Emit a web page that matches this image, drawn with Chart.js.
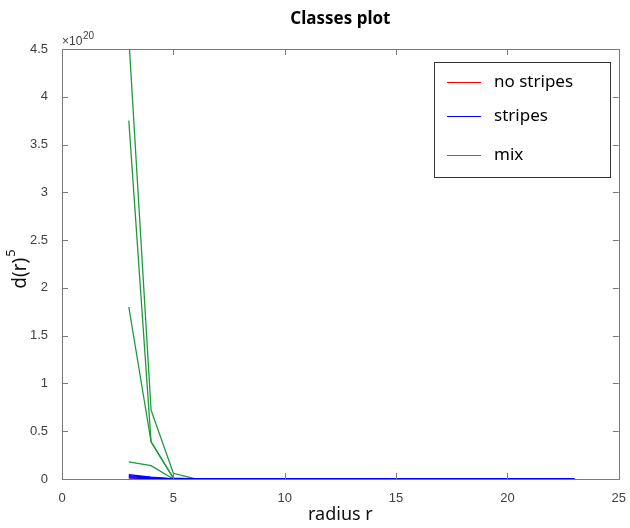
<!DOCTYPE html>
<html>
<head>
<meta charset="utf-8">
<script src="https://cdn.jsdelivr.net/npm/chart.js@4/dist/chart.umd.min.js"></script>
<style>
  html, body { margin: 0; padding: 0; background: #fff; }
  #wrap { width: 630px; height: 528px; }
</style>
</head>
<body>
<div id="wrap"><canvas id="myChart" width="630" height="528"></canvas></div>
<script>
// radius r
const radius = [3, 4, 5, 6, 7, 8, 9, 10, 11, 12, 13, 14, 15, 16, 17, 18, 19, 20, 21, 22, 23]

// d(r)^5 in units of 1e20
const noStripes1 = [0.012, 0.004, 0, 0, 0, 0, 0, 0, 0, 0, 0, 0, 0, 0, 0, 0, 0, 0, 0, 0, 0]
const stripes1 = [0.045, 0.020, 0.002, 0, 0, 0, 0, 0, 0, 0, 0, 0, 0, 0, 0, 0, 0, 0, 0, 0, 0]
const stripes2 = [0.035, 0.014, 0.001, 0, 0, 0, 0, 0, 0, 0, 0, 0, 0, 0, 0, 0, 0, 0, 0, 0, 0]
const stripes3 = [0.025, 0.009, 0, 0, 0, 0, 0, 0, 0, 0, 0, 0, 0, 0, 0, 0, 0, 0, 0, 0, 0]
const stripes4 = [0.012, 0.004, 0, 0, 0, 0, 0, 0, 0, 0, 0, 0, 0, 0, 0, 0, 0, 0, 0, 0, 0]
const mix1 = [4.62, 0.72, 0.06, 0, 0, 0, 0, 0, 0, 0, 0, 0, 0, 0, 0, 0, 0, 0, 0, 0, 0]
const mix2 = [3.75, 0.39, 0.01, 0, 0, 0, 0, 0, 0, 0, 0, 0, 0, 0, 0, 0, 0, 0, 0, 0, 0]
const mix3 = [1.80, 0.39, 0.01, 0, 0, 0, 0, 0, 0, 0, 0, 0, 0, 0, 0, 0, 0, 0, 0, 0, 0]
const mix4 = [0.18, 0.14, 0, 0, 0, 0, 0, 0, 0, 0, 0, 0, 0, 0, 0, 0, 0, 0, 0, 0, 0]

const xTicks = [0, 5, 10, 15, 20, 25]
const yTicks = [0, 0.5, 1, 1.5, 2, 2.5, 3, 3.5, 4, 4.5]

const classes = [
  { label: 'no stripes', color: '#ff0000', series: [noStripes1], order: 3 },
  { label: 'stripes', color: '#0000ff', series: [stripes1, stripes2, stripes3, stripes4], order: 1 },
  { label: 'mix', color: '#1e9a3c', series: [mix1, mix2, mix3, mix4], order: 2 }
]

const datasets = []
classes.forEach(c => {
  c.series.forEach((s, i) => {
    datasets.push({
      label: c.label,
      data: s.map((v, k) => ({ x: radius[k], y: v })),
      borderColor: c.color,
      backgroundColor: c.color,
      borderWidth: 1.3,
      pointRadius: 0,
      tension: 0,
      order: c.order,
      inLegend: i === 0
    })
  })
})

const textFont = '"Noto Sans", "Open Sans", sans-serif'
const tickFont = '"Liberation Sans", Arial, sans-serif'

const matlabAxes = {
  id: 'matlabAxes',
  afterDraw(chart) {
    const ctx = chart.ctx
    const a = chart.chartArea
    const xs = chart.scales.x
    const ys = chart.scales.y
    ctx.save()
    // box
    ctx.strokeStyle = '#7a7a7a'
    ctx.lineWidth = 1
    ctx.strokeRect(Math.round(a.left) + 0.5, Math.round(a.top) + 0.5,
      Math.round(a.right - a.left), Math.round(a.bottom - a.top))
    // inner ticks
    ctx.beginPath()
    xTicks.forEach(t => {
      const px = Math.round(xs.getPixelForValue(t)) + 0.5
      ctx.moveTo(px, a.bottom); ctx.lineTo(px, a.bottom - 6)
      ctx.moveTo(px, a.top); ctx.lineTo(px, a.top + 6)
    })
    yTicks.forEach(t => {
      const py = Math.round(ys.getPixelForValue(t)) + 0.5
      ctx.moveTo(a.left, py); ctx.lineTo(a.left + 6, py)
      ctx.moveTo(a.right, py); ctx.lineTo(a.right - 6, py)
    })
    ctx.stroke()

    // exponent label
    ctx.fillStyle = '#404040'
    ctx.textBaseline = 'alphabetic'
    ctx.textAlign = 'left'
    ctx.font = '12px ' + tickFont
    ctx.fillText('\u00d710', a.left, a.top - 4)
    ctx.font = '10px ' + tickFont
    ctx.fillText('20', a.left + ctx.measureText('\u00d710').width + 4, a.top - 10)

    // title
    ctx.fillStyle = '#000'
    ctx.textAlign = 'center'
    ctx.textBaseline = 'middle'
    ctx.font = 'bold 17px ' + textFont
    ctx.fillText('Classes plot', (a.left + a.right) / 2, 19)

    // x label
    ctx.font = '18px ' + textFont
    ctx.fillStyle = '#111'
    ctx.fillText('radius r', (a.left + a.right) / 2, 515)

    // y label with superscript
    ctx.translate(21, (a.top + a.bottom) / 2 + 5)
    ctx.rotate(-Math.PI / 2)
    ctx.textAlign = 'left'
    ctx.font = '19px ' + textFont
    const w1 = ctx.measureText('d(r)').width
    ctx.font = '13px ' + textFont
    const w2 = ctx.measureText('5').width
    const start = -(w1 + w2 + 1) / 2
    ctx.font = '19px ' + textFont
    ctx.fillText('d(r)', start, 0)
    ctx.font = '13px ' + textFont
    ctx.fillText('5', start + w1 + 1, -10)
    ctx.restore()

    // legend
    const lx = 434, ly = 62, lw = 176, lh = 115
    ctx.save()
    ctx.fillStyle = '#fff'
    ctx.fillRect(lx, ly, lw, lh)
    ctx.strokeStyle = '#333'
    ctx.lineWidth = 1
    ctx.strokeRect(lx + 0.5, ly + 0.5, lw, lh)
    const rows = [82, 116, 155]
    const entries = chart.data.datasets.filter(d => d.inLegend)
    entries.forEach((d, i) => {
      const y = rows[i]
      ctx.strokeStyle = d.borderColor
      ctx.lineWidth = 1
      ctx.beginPath()
      ctx.moveTo(447, y + 0.5); ctx.lineTo(481, y + 0.5)
      ctx.stroke()
      ctx.fillStyle = '#000'
      ctx.font = '17px ' + textFont
      ctx.textAlign = 'left'
      ctx.textBaseline = 'middle'
      ctx.fillText(d.label, 494, y)
    })
    ctx.restore()
  }
}

const ctx = document.getElementById('myChart')
const myChart = new Chart(ctx, {
  type: 'line',
  data: { datasets },
  options: {
    responsive: false,
    animation: false,
    layout: { padding: { left: 0, right: 8, top: 49, bottom: 0 } },
    plugins: {
      legend: { display: false },
      title: { display: false },
      tooltip: { enabled: false }
    },
    scales: {
      x: {
        type: 'linear',
        min: 0,
        max: 25,
        grid: { display: false },
        border: { display: false },
        afterBuildTicks: axis => { axis.ticks = xTicks.map(v => ({ value: v })) },
        afterFit: axis => { axis.height = 49 },
        ticks: {
          color: '#404040',
          font: { family: tickFont, size: 13 },
          padding: 4,
          maxRotation: 0,
          callback: v => String(v)
        }
      },
      y: {
        type: 'linear',
        min: 0,
        max: 4.5,
        grid: { display: false },
        border: { display: false },
        afterBuildTicks: axis => { axis.ticks = yTicks.map(v => ({ value: v })) },
        afterFit: axis => { axis.width = 62 },
        ticks: {
          color: '#404040',
          font: { family: tickFont, size: 13 },
          padding: 6,
          callback: v => String(v)
        }
      }
    }
  },
  plugins: [matlabAxes]
})
</script>
</body>
</html>
